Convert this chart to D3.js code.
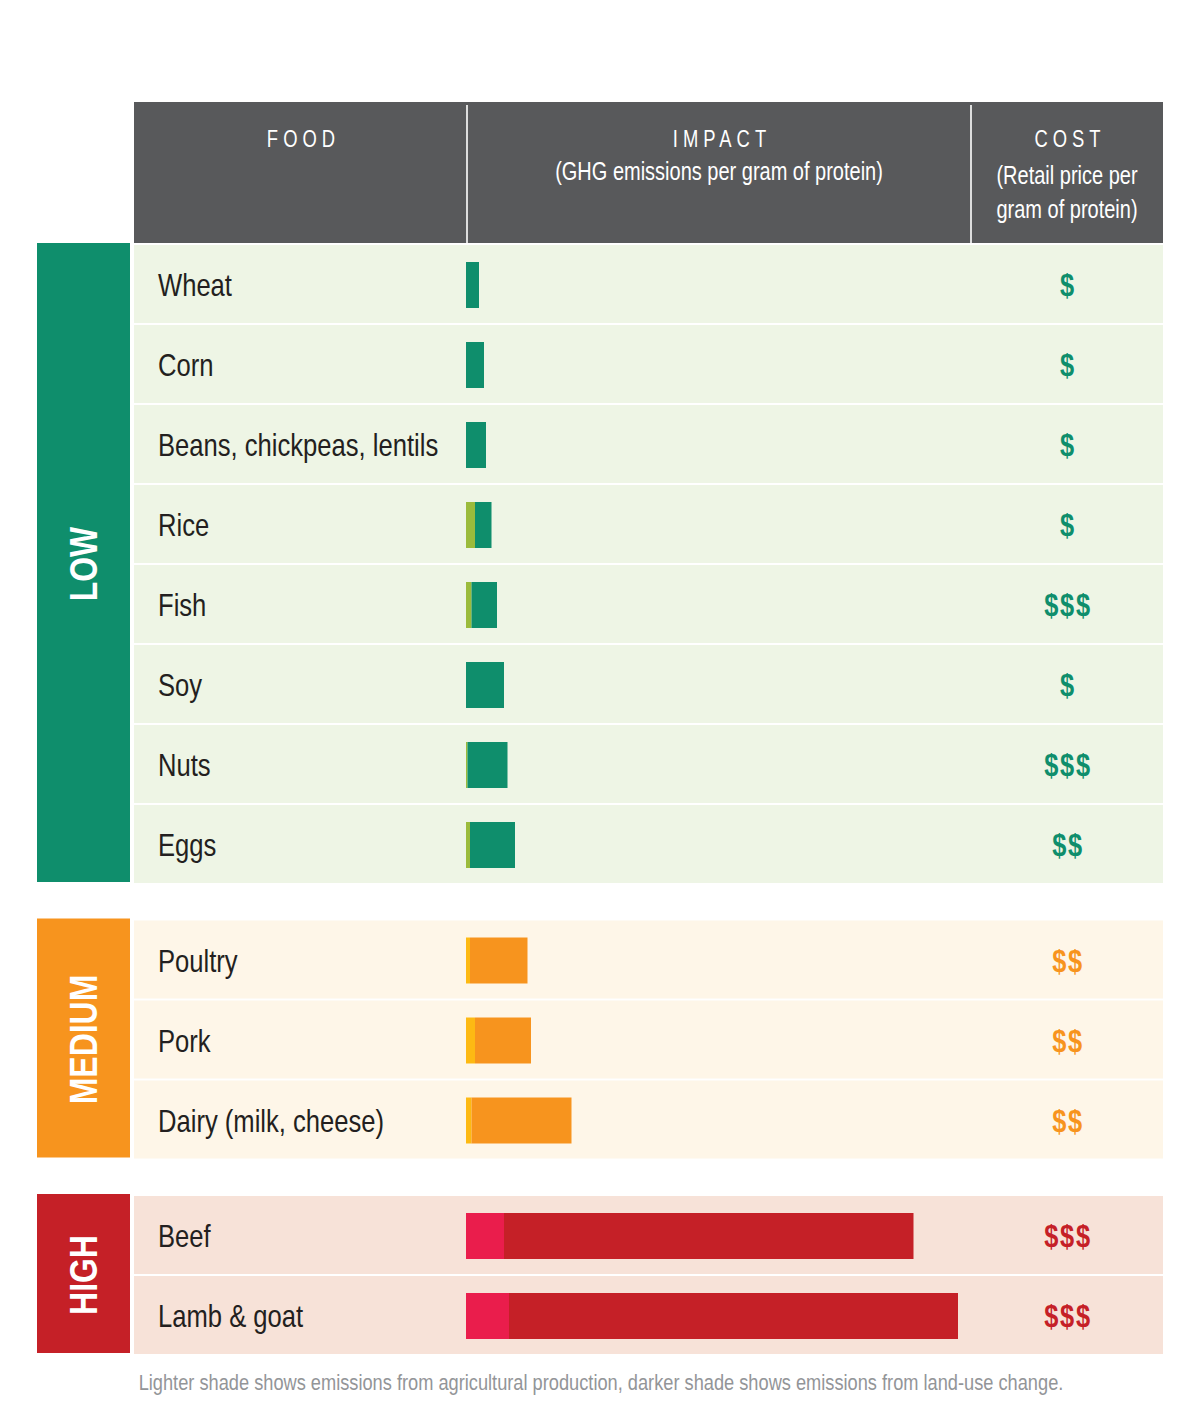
<!DOCTYPE html>
<html>
<head>
<meta charset="utf-8">
<script src="https://cdn.jsdelivr.net/npm/d3@7"></script>
<style>
  html, body { margin: 0; padding: 0; background: #ffffff; }
  svg { display: block; }
</style>
</head>
<body>
<svg id="chart" width="1201" height="1422"></svg>
<script>
// ---------------- DATA ----------------
const groups      = ["LOW", "MEDIUM", "HIGH"];
const foods       = ["Wheat", "Corn", "Beans, chickpeas, lentils", "Rice", "Fish", "Soy", "Nuts", "Eggs",
                     "Poultry", "Pork", "Dairy (milk, cheese)",
                     "Beef", "Lamb & goat"];
const foodGroup   = ["LOW", "LOW", "LOW", "LOW", "LOW", "LOW", "LOW", "LOW",
                     "MEDIUM", "MEDIUM", "MEDIUM",
                     "HIGH", "HIGH"];
// emissions per gram of protein (relative units), split in two shades
const agriculture = [0, 0, 0, 1.8, 1.1, 0, 0.3, 0.8, 0.8, 1.8, 1.1, 7.6, 8.6];                 // lighter shade
const landUse     = [2.6, 3.6, 4.0, 3.3, 5.1, 7.6, 8.0, 9.0, 11.5, 11.2, 20.0, 81.9, 89.8];    // darker shade
const costLevel   = [1, 1, 1, 1, 3, 1, 3, 2, 2, 2, 2, 3, 3];                                    // number of "$"
const headerTitles    = ["FOOD", "IMPACT", "COST"];
const impactSubtitle  = ["(GHG emissions per gram of protein)"];
const costSubtitle    = ["(Retail price per", "gram of protein)"];
const footnote        = "Lighter shade shows emissions from agricultural production, darker shade shows emissions from land-use change.";

// ---------------- STYLE ----------------
const palette = {
  LOW:    { bg: "#eef5e5", box: "#0f8e6c", dark: "#0f8e6c", light: "#9bbb3c", cost: "#0f8e6c" },
  MEDIUM: { bg: "#fef6e8", box: "#f7941e", dark: "#f7941e", light: "#fdb913", cost: "#f7941e" },
  HIGH:   { bg: "#f7e2d8", box: "#c52027", dark: "#c52027", light: "#ea1d4c", cost: "#c52027" }
};
const FONT = '"Liberation Sans", Arial, sans-serif';
const NARROW = 0.8;   // horizontal condensing applied to text

const svg = d3.select("#chart");

// layout
const tableLeft = 134, tableRight = 1163;
const col1 = 467, col2 = 971;
const headerTop = 102, headerBottom = 243;
const firstRowTop = 245, rowStep = 80, rowGap = 2, groupGap = 37.5;
const boxLeft = 37, boxRight = 130;

const x = d3.scaleLinear().domain([0, 100]).range([466, 966]);

const rows = foods.map((f, i) => ({
  food: f, group: foodGroup[i], ag: agriculture[i], luc: landUse[i], cost: costLevel[i]
}));

// group extents and band scales
let cursor = firstRowTop;
const groupInfo = groups.map(g => {
  const items = rows.filter(r => r.group === g).map(r => r.food);
  const top = cursor;
  const bottom = top + items.length * rowStep - rowGap;
  const band = d3.scaleBand().domain(items).range([top, bottom]).paddingInner(rowGap / rowStep).paddingOuter(0);
  cursor = bottom + groupGap;
  return { group: g, items, top, bottom, band };
});
const bandOf = {};
groupInfo.forEach(gi => gi.items.forEach(it => bandOf[it] = gi.band));

// ---------------- HEADER ----------------
svg.append("rect")
  .attr("x", tableLeft).attr("y", headerTop)
  .attr("width", tableRight - tableLeft).attr("height", headerBottom - headerTop)
  .attr("fill", "#58595b");
[col1, col2].forEach(cx => {
  svg.append("line")
    .attr("x1", cx).attr("x2", cx)
    .attr("y1", headerTop + 3).attr("y2", headerBottom)
    .attr("stroke", "#ffffff").attr("stroke-width", 1.6);
});
const titleX = [(tableLeft + col1) / 2, (col1 + col2) / 2, (col2 + tableRight) / 2];
svg.selectAll("text.htitle").data(headerTitles).join("text")
  .attr("class", "htitle")
  .attr("transform", (d, i) => `translate(${titleX[i] + 3},147) scale(${NARROW},1)`)
  .attr("text-anchor", "middle")
  .attr("fill", "#ffffff")
  .style("font-family", FONT).style("font-size", "23px")
  .style("letter-spacing", "6.3px")
  .text(d => d);
svg.selectAll("text.hsub1").data(impactSubtitle).join("text")
  .attr("class", "hsub1")
  .attr("transform", `translate(${titleX[1]},180) scale(${NARROW},1)`)
  .attr("text-anchor", "middle").attr("fill", "#ffffff")
  .style("font-family", FONT).style("font-size", "25px")
  .text(d => d);
svg.selectAll("text.hsub2").data(costSubtitle).join("text")
  .attr("class", "hsub2")
  .attr("transform", (d, i) => `translate(${titleX[2]},${184 + i * 34}) scale(${NARROW},1)`)
  .attr("text-anchor", "middle").attr("fill", "#ffffff")
  .style("font-family", FONT).style("font-size", "25px")
  .text(d => d);

// ---------------- GROUP BOXES ----------------
groupInfo.forEach(gi => {
  svg.append("rect")
    .attr("x", boxLeft).attr("y", gi.top - 2)
    .attr("width", boxRight - boxLeft).attr("height", gi.bottom - gi.top + 1)
    .attr("fill", palette[gi.group].box);
  const cy = (gi.top + gi.bottom) / 2;
  svg.append("text")
    .attr("transform", `translate(${(boxLeft + boxRight) / 2},${cy}) rotate(-90) scale(0.83,1)`)
    .attr("text-anchor", "middle")
    .attr("dy", "0.36em")
    .attr("fill", "#ffffff")
    .style("font-family", FONT).style("font-size", "38.5px").style("font-weight", "bold")
    .text(gi.group);
});

// ---------------- ROWS ----------------
const rowG = svg.append("g").selectAll("g").data(rows).join("g")
  .attr("transform", d => `translate(0,${bandOf[d.food](d.food)})`);

rowG.append("rect")
  .attr("x", tableLeft).attr("y", 0)
  .attr("width", tableRight - tableLeft)
  .attr("height", d => bandOf[d.food].bandwidth())
  .attr("fill", d => palette[d.group].bg);

rowG.append("text")
  .attr("transform", d => `translate(158,${bandOf[d.food].bandwidth() / 2 + 12}) scale(0.8,1)`)
  .attr("fill", "#231f20")
  .style("font-family", FONT).style("font-size", "32px")
  .text(d => d.food);

const barH = 46;
// lighter shade: agricultural production
rowG.append("rect")
  .attr("x", x(0))
  .attr("y", d => bandOf[d.food].bandwidth() / 2 - barH / 2 + 1)
  .attr("width", d => x(d.ag) - x(0))
  .attr("height", barH)
  .attr("fill", d => palette[d.group].light);
// darker shade: land-use change
rowG.append("rect")
  .attr("x", d => x(d.ag))
  .attr("y", d => bandOf[d.food].bandwidth() / 2 - barH / 2 + 1)
  .attr("width", d => x(d.ag + d.luc) - x(d.ag))
  .attr("height", barH)
  .attr("fill", d => palette[d.group].dark);

rowG.append("text")
  .attr("transform", d => `translate(${titleX[2] + 1},${bandOf[d.food].bandwidth() / 2 + 12}) scale(0.82,1)`)
  .attr("text-anchor", "middle")
  .attr("fill", d => palette[d.group].cost)
  .style("font-family", FONT).style("font-size", "31px").style("font-weight", "bold")
  .style("letter-spacing", "2px")
  .text(d => "$".repeat(d.cost));

// ---------------- FOOTNOTE ----------------
svg.append("text")
  .attr("transform", `translate(601,1390) scale(${NARROW},1)`)
  .attr("text-anchor", "middle")
  .attr("fill", "#939598")
  .style("font-family", FONT).style("font-size", "22.8px")
  .text(footnote);
</script>
</body>
</html>
